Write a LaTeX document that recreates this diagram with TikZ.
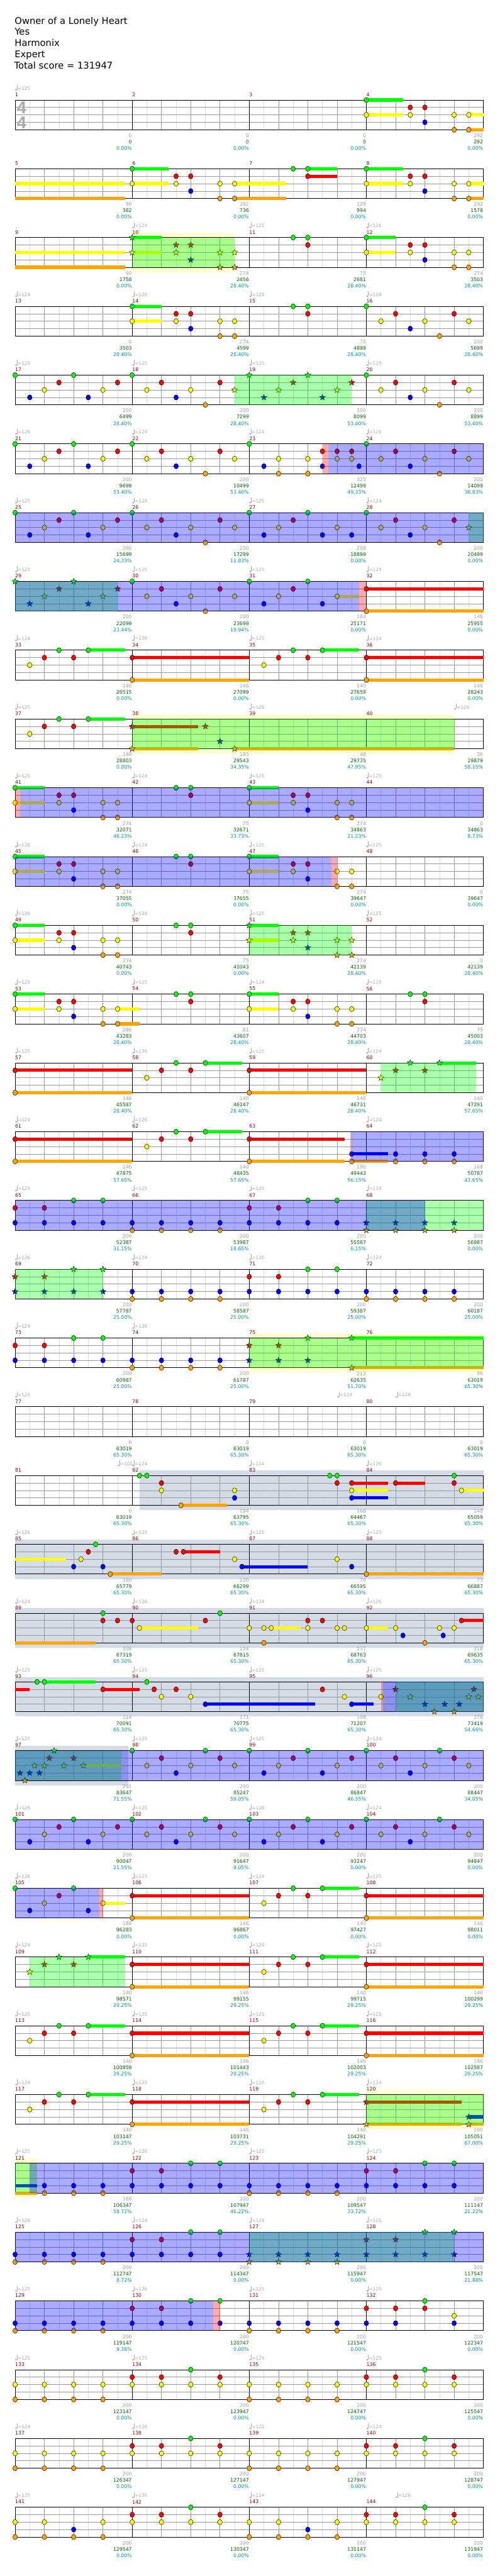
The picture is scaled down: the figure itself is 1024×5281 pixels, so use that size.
\documentclass[tikz,border=0pt]{standalone}
\usepackage{fontspec}
\setmainfont{DejaVu Sans}
\newfontfamily\lsans{Liberation Sans}
\usetikzlibrary{shapes.geometric}
\definecolor{lane0}{RGB}{0,255,0}
\definecolor{lane1}{RGB}{255,0,0}
\definecolor{lane2}{RGB}{255,255,0}
\definecolor{lane3}{RGB}{0,0,255}
\definecolor{lane4}{RGB}{255,165,0}
\definecolor{dred}{RGB}{139,0,0}
\definecolor{lgray}{RGB}{160,160,160}
\definecolor{dgreen}{RGB}{0,100,0}
\definecolor{tealc}{RGB}{0,150,150}
\definecolor{tgray}{RGB}{170,170,170}
\definecolor{glight}{RGB}{221,221,221}
\definecolor{gbeat}{RGB}{153,153,153}
\definecolor{soloy}{RGB}{255,255,208}
\definecolor{solob}{RGB}{212,220,232}
\tikzset{
 nh/.style={draw=black,line width=0.6pt},
 stn/.style={shape=star,star points=5,star point ratio=2.3,minimum size=13pt,inner sep=0pt,draw=black,line width=0.5pt},
 mnum/.style={anchor=west,inner sep=0pt,text=dred,font=\fontsize{10}{10}\selectfont},
 tnum/.style={anchor=west,inner sep=0pt,text=tgray,font=\fontsize{9.5}{10}\selectfont},
 lab/.style={anchor=east,inner sep=0pt,font=\fontsize{10}{10}\selectfont},
 hdr/.style={anchor=base west,inner sep=0pt,font=\fontsize{19}{23}\selectfont},
 tsig/.style={text=tgray,inner sep=0pt,font=\lsans\bfseries\fontsize{35}{35}\selectfont},
}
\newcommand\xNL[2]{\foreach \pp in {#2}{\draw[nh,fill=lane#1] ({15*\pp},{15.25*#1}) ellipse (4.7 and 5.3);}}
\newcommand\xSL[2]{\foreach \pp in {#2}{\node[stn,fill=lane#1] at ({15*\pp},{15.25*#1}) {};}}
\newcommand\xSB[3]{\fill[lane#1] ({15*#2},{15.25*#1-3.3}) rectangle ({15*#3},{15.25*#1+3.3});}
\newcommand\xRG[2]{\fill[lane0,fill opacity=0.333] ({15*#1},0) rectangle ({15*#2},61);}
\newcommand\xRB[2]{\fill[lane3,fill opacity=0.333] ({15*#1},0) rectangle ({15*#2},61);}
\newcommand\xRP[2]{\fill[lane1,fill opacity=0.333] ({15*#1},0) rectangle ({15*#2},61);}
\newcommand\xRY[2]{\fill[soloy] ({15*#1},-10) rectangle ({15*#2},71);}
\newcommand\xRS[2]{\fill[solob] ({15*#1},-10) rectangle ({15*#2},71);}
\newcommand\xGRID{%
 \foreach \ii in {0,...,15}{\draw[glight,line width=0.8pt] ({30+60*\ii},0) -- ({30+60*\ii},61);}
 \foreach \ii in {1,2,3,5,6,7,9,10,11,13,14,15}{\draw[gbeat,line width=0.8pt] ({60*\ii},0) -- ({60*\ii},61);}
 \foreach \ii in {1,2,3}{\draw[gbeat,line width=0.9pt] (0,{15.25*\ii}) -- (960,{15.25*\ii});}
 \foreach \ii in {0,...,4}{\draw[black,line width=0.8pt] ({240*\ii},0) -- ({240*\ii},61);}
 \draw[black,line width=1.2pt] (0,0) -- (960,0) (0,61) -- (960,61);}
\newcommand\xMN[1]{\foreach \ii in {0,...,3}{\pgfmathtruncatemacro\mm{#1+\ii}\node[mnum] at ({240*\ii},-11) {\mm};}}
\newcommand\xTP[2]{\fill[tgray] ({15*#1+2},-20.5) ellipse (2.2 and 1.6); \draw[tgray,line width=0.6pt] ({15*#1+4},-20.5) -- ({15*#1+4},-31); \node[tnum] at ({15*#1+5},-24) {=#2};}
\newcommand\xLAB[3]{%
 \foreach \vv [count=\ii] in {#1}{\node[lab,text=lgray] at ({240*\ii-0.5},73) {\vv};}
 \foreach \vv [count=\ii] in {#2}{\node[lab,text=dgreen] at ({240*\ii-0.5},86) {\vv};}
 \foreach \vv [count=\ii] in {#3}{\node[lab,text=tealc] at ({240*\ii-0.5},99) {\vv\%};}}
\begin{document}
\begin{tikzpicture}[x=1pt,y=-1pt]
\useasboundingbox (0,0) rectangle (1024,5281);
\fill[white] (0,0) rectangle (1024,5281);
\node[hdr] (h1) at (30,49) {Owner of a Lonely Heart};
\node[hdr] (h2) at (30,72) {Yes};
\node[hdr] (h3) at (30,95) {Harmonix};
\node[hdr] (h4) at (30,118.3) {Expert};
\node[hdr] (h5) at (29,141.7) {Total score = 131947};
% row 1
\begin{scope}[shift={(31,205)}]
\xGRID \xMN{1}
\node[tsig] (ts1) at (13.5,15.5) {4};
\node[tsig] (ts2) at (13.5,46.5) {4};
\xTP{0}{125}
\xSB{0}{48}{53}\xSB{2}{48}{53}\xSB{2}{62}{64}\xSB{4}{62}{64}
\xNL{0}{48}\xNL{1}{54,56}\xNL{2}{48,54,60,62}\xNL{3}{56}\xNL{4}{60,62}
\xLAB{0,0,0,292}{0,0,0,292}{0.00,0.00,0.00,0.00}
\end{scope}
% row 2
\begin{scope}[shift={(31,346)}]
\xGRID \xMN{5}
\xSB{2}{0}{15}\xSB{4}{0}{15}\xSB{0}{16}{21}\xSB{2}{16}{21}\xSB{2}{30}{37}\xSB{4}{30}{37}\xSB{0}{40}{44}\xSB{1}{40}{44}\xSB{0}{48}{53}\xSB{2}{48}{53}\xSB{2}{62}{64}\xSB{4}{62}{64}
\xNL{0}{16,38,40,48}\xNL{1}{22,24,40,54,56}\xNL{2}{16,22,28,30,48,54,60,62}\xNL{3}{24,56}\xNL{4}{28,30,60,62}
\xLAB{90,292,129,292}{382,736,994,1578}{0.00,0.00,0.00,0.00}
\end{scope}
% row 3
\begin{scope}[shift={(31,487)}]
\xRY{16}{30}
\xGRID \xMN{9}
\xTP{16}{124}\xTP{32}{125}\xTP{48}{126}
\xSB{2}{0}{15}\xSB{4}{0}{15}\xSB{0}{16}{20}\xSB{2}{16}{20}\xSB{0}{48}{52}\xSB{2}{48}{52}
\xNL{0}{38,40,48}\xNL{1}{40,54,56}\xNL{2}{48,54,60,62}\xNL{3}{56}\xNL{4}{60,62}
\xSL{0}{16}\xSL{1}{22,24}\xSL{2}{16,22,28,30}\xSL{3}{24}\xSL{4}{28,30}
\xRG{16}{30}
\xLAB{90,274,75,274}{1758,2456,2681,3503}{0.00,28.40,28.40,28.40}
\end{scope}
% row 4
\begin{scope}[shift={(31,628)}]
\xGRID \xMN{13}
\xTP{0}{124}\xTP{16}{126}\xTP{32}{124}\xTP{48}{126}
\xSB{0}{16}{20}\xSB{2}{16}{20}
\xNL{0}{16,38,40,48}\xNL{1}{22,24,40,52,60}\xNL{2}{16,22,28,30,50,56,62}\xNL{3}{24,54}\xNL{4}{28,30,58}
\xLAB{0,274,75,200}{3503,4599,4899,5699}{28.40,28.40,28.40,28.40}
\end{scope}
% row 5
\begin{scope}[shift={(31,769)}]
\xGRID \xMN{17}
\xTP{0}{125}\xTP{16}{125}\xTP{32}{125}\xTP{48}{125}
\xNL{0}{0,8,16,48}\xNL{1}{6,14,20,28,52,60}\xNL{2}{4,12,18,24,50,56,62}\xNL{3}{2,10,22,54}\xNL{4}{26,58}
\xSL{0}{32,40}\xSL{1}{38,46}\xSL{2}{30,36,44}\xSL{3}{34,42}
\xRG{30}{46}
\xLAB{200,200,200,200}{6499,7299,8099,8899}{28.40,28.40,53.40,53.40}
\end{scope}
% row 6
\begin{scope}[shift={(31,910)}]
\xGRID \xMN{21}
\xTP{0}{126}\xTP{16}{124}\xTP{32}{124}\xTP{48}{126}
\xNL{0}{0,8,16,32,48}\xNL{1}{6,14,20,28,42,44,46,52,60}\xNL{2}{4,12,18,24,30,36,40,44,46,50,56,62}\xNL{3}{2,10,22,34,42,47,54}\xNL{4}{26,36,40,58}
\xRP{42}{42.8}\xRB{42.8}{64}
\xLAB{200,200,325,200}{9699,10499,12499,14099}{53.40,53.40,49.33,36.83}
\end{scope}
% row 7
\begin{scope}[shift={(31,1051)}]
\xGRID \xMN{25}
\xTP{0}{125}\xTP{16}{125}\xTP{32}{125}\xTP{48}{124}
\xNL{0}{0,8,16,32,40,48}\xNL{1}{6,14,20,28,38,52,60}\xNL{2}{4,12,18,24,30,36,44,50,56}\xNL{3}{2,10,22,34,42,46,54}\xNL{4}{26,58}
\xSL{2}{62}
\xRG{62}{64}\xRB{0}{64}
\xLAB{200,200,200,200}{15699,17299,18899,20499}{24.33,11.83,0.00,0.00}
\end{scope}
% row 8
\begin{scope}[shift={(31,1192)}]
\xGRID \xMN{29}
\xTP{0}{125}\xTP{16}{125}\xTP{32}{125}\xTP{48}{125}
\xSB{2}{44}{47}\xSB{1}{48}{64}\xSB{4}{48}{64}
\xSL{0}{0,8}\xSL{1}{6,14}\xSL{2}{4,12}\xSL{3}{2,10}
\xNL{0}{16,32,40}\xNL{1}{20,28,38,48}\xNL{2}{18,24,30,36,44}\xNL{3}{22,34,42}\xNL{4}{26,48}
\xRG{0}{14}\xRB{0}{47}\xRP{47}{48}
\xLAB{200,200,184,146}{22099,23699,25171,25955}{23.44,10.94,0.00,0.00}
\end{scope}
% row 9
\begin{scope}[shift={(31,1333)}]
\xGRID \xMN{33}
\xTP{0}{124}\xTP{16}{126}\xTP{32}{125}\xTP{48}{124}
\xSB{0}{10}{15}\xSB{1}{16}{32}\xSB{4}{16}{32}\xSB{0}{42}{47}\xSB{1}{48}{64}\xSB{4}{48}{64}
\xNL{0}{6,10,38,42}\xNL{1}{4,8,16,36,40,48}\xNL{2}{2,34}\xNL{4}{16,48}
\xLAB{140,146,140,146}{26515,27099,27659,28243}{0.00,0.00,0.00,0.00}
\end{scope}
% row 10
\begin{scope}[shift={(31,1474)}]
\xRY{16}{60}
\xGRID \xMN{37}
\xTP{0}{125}\xTP{32}{126}\xTP{60}{120}
\xSB{0}{10}{15}\xSB{1}{16}{25}\xSB{4}{16}{25}\xSB{4}{30}{60}
\xNL{0}{6,10}\xNL{1}{4,8}\xNL{2}{2}
\xSL{1}{16,26}\xSL{3}{28}\xSL{4}{16,30}
\xRG{16}{60}
\xLAB{140,185,48,36}{28803,29543,29735,29879}{0.00,34.35,47.95,58.15}
\end{scope}
% row 11
\begin{scope}[shift={(31,1615)}]
\xGRID \xMN{41}
\xTP{0}{125}\xTP{16}{124}\xTP{32}{125}\xTP{48}{125}
\xSB{0}{0}{4}\xSB{2}{0}{4}\xSB{0}{32}{36}\xSB{2}{32}{36}
\xNL{0}{0,22,24,32}\xNL{1}{6,8,24,38,40}\xNL{2}{0,6,12,14,32,38,44,46}\xNL{3}{8,40}\xNL{4}{12,14,44,46}
\xRP{0}{0.7}\xRB{0.7}{64}
\xLAB{274,75,274,0}{32071,32671,34863,34863}{46.23,33.73,21.23,8.73}
\end{scope}
% row 12
\begin{scope}[shift={(31,1756)}]
\xGRID \xMN{45}
\xTP{0}{126}\xTP{16}{124}\xTP{32}{125}\xTP{48}{125}
\xSB{0}{0}{4}\xSB{2}{0}{4}\xSB{0}{32}{36}\xSB{2}{32}{36}
\xNL{0}{0,22,24,32}\xNL{1}{6,8,24,38,40}\xNL{2}{0,6,12,14,32,38,44,46}\xNL{3}{8,40}\xNL{4}{12,14,44,46}
\xRB{0}{43.2}\xRP{43.2}{44}
\xLAB{274,75,274,0}{37055,37655,39647,39647}{0.00,0.00,0.00,0.00}
\end{scope}
% row 13
\begin{scope}[shift={(31,1897)}]
\xGRID \xMN{49}
\xTP{0}{126}\xTP{16}{124}\xTP{32}{125}\xTP{48}{125}
\xSB{0}{0}{4}\xSB{2}{0}{4}\xSB{0}{32}{36}\xSB{2}{32}{36}
\xNL{0}{0,22,24}\xNL{1}{6,8,24}\xNL{2}{0,6,12,14}\xNL{3}{8}\xNL{4}{12,14}
\xSL{0}{32}\xSL{1}{38,40}\xSL{2}{32,38,44,46}\xSL{3}{40}\xSL{4}{44,46}
\xRG{32}{46}
\xLAB{274,75,274,0}{40743,41043,42139,42139}{0.00,0.00,28.40,28.40}
\end{scope}
% row 14
\begin{scope}[shift={(31,2038)}]
\xGRID \xMN{53}
\xTP{0}{125}\xTP{16}{125}\xTP{32}{124}\xTP{48}{125}
\xSB{0}{0}{4}\xSB{2}{0}{4}\xSB{2}{14}{17}\xSB{4}{14}{17}\xSB{0}{32}{36}\xSB{2}{32}{36}
\xNL{0}{0,22,24,32,54,56}\xNL{1}{6,8,24,38,40,56}\xNL{2}{0,6,12,14,32,38,44,46}\xNL{3}{8,40}\xNL{4}{12,14,44,46}
\xLAB{286,81,274,75}{43283,43607,44703,45003}{28.40,28.40,28.40,28.40}
\end{scope}
% row 15
\begin{scope}[shift={(31,2179)}]
\xGRID \xMN{57}
\xTP{0}{125}\xTP{16}{126}\xTP{32}{125}\xTP{48}{124}
\xSB{1}{0}{16}\xSB{4}{0}{16}\xSB{0}{26}{31}\xSB{1}{32}{48}\xSB{4}{32}{48}\xSB{0}{58}{63}
\xNL{0}{22,26}\xNL{1}{0,20,24,32}\xNL{2}{18}\xNL{4}{0,32}
\xSL{0}{54,58}\xSL{1}{52,56}\xSL{2}{50}
\xRG{50}{63}
\xLAB{146,140,146,140}{45587,46147,46731,47291}{28.40,28.40,28.40,57.65}
\end{scope}
% row 16
\begin{scope}[shift={(31,2320)}]
\xGRID \xMN{61}
\xTP{0}{124}\xTP{16}{126}\xTP{48}{124}
\xSB{1}{0}{16}\xSB{4}{0}{16}\xSB{0}{26}{31}\xSB{1}{32}{45}\xSB{4}{32}{45}\xSB{3}{46}{51}\xSB{4}{46}{51}
\xNL{0}{22,26}\xNL{1}{0,20,24,32}\xNL{2}{18}\xNL{3}{46,52,56,60}\xNL{4}{0,32,46,52,56,60}
\xRP{45.85}{46}\xRB{46}{64}
\xLAB{146,140,190,168}{47875,48435,49443,50787}{57.65,57.65,56.15,43.65}
\end{scope}
% row 17
\begin{scope}[shift={(31,2461)}]
\xGRID \xMN{65}
\xTP{0}{125}\xTP{16}{125}\xTP{32}{125}\xTP{48}{124}
\xNL{0}{8,12,40,44}\xNL{1}{0,4,32,36}\xNL{3}{0,4,...,44}\xNL{4}{16,20,24,28}
\xSL{3}{48,52,56,60}\xSL{4}{48,52,56,60}
\xRG{48}{64}\xRB{0}{56}
\xLAB{200,200,200,200}{52387,53987,55587,56987}{31.15,18.65,6.15,0.00}
\end{scope}
% row 18
\begin{scope}[shift={(31,2602)}]
\xGRID \xMN{69}
\xTP{0}{126}\xTP{16}{124}\xTP{32}{126}\xTP{48}{124}
\xSL{0}{8,12}\xSL{1}{0,4}\xSL{3}{0,4,8,12}
\xNL{0}{40,44}\xNL{1}{32,36}\xNL{3}{16,20,...,60}\xNL{4}{16,20,24,28,48,52,56,60}
\xRG{0}{12}
\xLAB{200,200,200,200}{57787,58587,59387,60187}{25.00,25.00,25.00,25.00}
\end{scope}
% row 19
\begin{scope}[shift={(31,2743)}]
\xRY{32}{64}
\xGRID \xMN{73}
\xTP{0}{124}\xTP{16}{126}
\xSB{0}{46}{64}\xSB{4}{46}{64}
\xNL{0}{8,12}\xNL{1}{0,4}\xNL{3}{0,4,...,28}\xNL{4}{16,20,24,28}
\xSL{0}{40,46}\xSL{1}{32,36}\xSL{3}{32,36,40}\xSL{4}{46}
\xRG{32}{64}
\xLAB{200,200,212,96}{60987,61787,62635,63019}{25.00,25.00,51.70,65.30}
\end{scope}
% row 20
\begin{scope}[shift={(31,2884)}]
\xGRID \xMN{77}
\xTP{0}{125}\xTP{44}{119}\xTP{52}{128}
\xLAB{0,0,0,0}{63019,63019,63019,63019}{65.30,65.30,65.30,65.30}
\end{scope}
% row 21
\begin{scope}[shift={(31,3025)}]
\xRS{17}{64}
\xGRID \xMN{81}
\xTP{14}{105}\xTP{16}{124}\xTP{32}{124}\xTP{48}{126}
\xSB{4}{22.67}{29}\xSB{1}{46}{51}\xSB{1}{52}{56}\xSB{2}{46}{51}\xSB{3}{46}{51}\xSB{2}{61}{64}
\xNL{0}{17,18,43,44,60}\xNL{1}{20,44,46,52,60}\xNL{2}{20,30,46,61}\xNL{3}{30,46}\xNL{4}{22.67}
\xLAB{0,194,168,148}{63019,63795,64467,65059}{65.30,65.30,65.30,65.30}
\end{scope}
% row 22
\begin{scope}[shift={(31,3166)}]
\xRS{0}{64}
\xGRID \xMN{85}
\xTP{0}{126}\xTP{16}{125}\xTP{32}{125}\xTP{48}{125}
\xSB{2}{0}{7}\xSB{4}{13}{20}\xSB{1}{23}{28}\xSB{3}{31}{40}\xSB{4}{48}{64}
\xNL{0}{11}\xNL{1}{10,22,23}\xNL{2}{9,30,44}\xNL{3}{8,12,31,46}\xNL{4}{13,48}
\xLAB{180,130,74,73}{65779,66299,66595,66887}{65.30,65.30,65.30,65.30}
\end{scope}
% row 23
\begin{scope}[shift={(31,3307)}]
\xRS{0}{64}
\xGRID \xMN{89}
\xTP{0}{124}\xTP{16}{126}\xTP{32}{124}\xTP{48}{126}
\xSB{4}{0}{11}\xSB{2}{17}{25}\xSB{2}{35}{39}\xSB{2}{48}{51}\xSB{1}{61}{64}
\xNL{0}{12,28}\xNL{1}{12,14,16,26,40,42,61}\xNL{2}{17,32,34,35,40,44,45,48,52,58,60}\xNL{3}{53,58.5}\xNL{4}{34,56}
\xLAB{108,124,237,218}{67319,67815,68763,69635}{65.30,65.30,65.30,65.30}
\end{scope}
% row 24
\begin{scope}[shift={(31,3448)}]
\xRS{0}{64}
\xGRID \xMN{93}
\xTP{0}{125}\xTP{16}{125}\xTP{32}{125}\xTP{48}{125}
\xSB{1}{0}{2}\xSB{0}{4}{11}\xSB{1}{12}{17}\xSB{3}{26}{41}\xSB{3}{46}{49}
\xNL{0}{3,4,18}\xNL{1}{12,19,22,42}\xNL{2}{20,24,45,50}\xNL{3}{26,46}
\xSL{1}{52,62.7}\xSL{2}{54,62,63.3}\xSL{3}{56,58.7,60.7}\xSL{4}{57.3,60}
\xRG{52}{64}\xRP{50}{50.3}\xRB{50.3}{64}
\xLAB{114,171,108,278}{70091,70775,71207,73419}{65.30,65.30,65.30,54.66}
\end{scope}
% row 25
\begin{scope}[shift={(31,3589)}]
\xRS{0}{15.5}
\xGRID \xMN{97}
\xTP{0}{125}\xTP{16}{125}\xTP{32}{125}\xTP{48}{124}
\xSB{2}{9.33}{14.5}
\xSL{0}{5.33}\xSL{1}{4.67,8}\xSL{2}{2.67,4,6.67,9.33}\xSL{3}{0.67,2,3.33}\xSL{4}{1.33}
\xNL{0}{16,26,32,40,48,58}\xNL{1}{20,28,38,46,52,60}\xNL{2}{18,24,30,36,44,50,56,62}\xNL{3}{22,34,42,54}
\xRG{0}{14.5}\xRB{0}{64}
\xLAB{291,200,200,200}{83647,85247,86847,88447}{71.55,59.05,46.55,34.05}
\end{scope}
% row 26
\begin{scope}[shift={(31,3730)}]
\xGRID \xMN{101}
\xTP{0}{126}\xTP{16}{125}\xTP{32}{126}\xTP{48}{124}
\xNL{0}{0,8,16,26,32,40,48,58}\xNL{1}{6,14,20,28,38,46,52,60}\xNL{2}{4,12,18,24,30,36,44,50,56,62}\xNL{3}{2,10,22,34,42,54}
\xRB{0}{64}
\xLAB{200,200,200,200}{90047,91647,93247,94847}{21.55,9.05,0.00,0.00}
\end{scope}
% row 27
\begin{scope}[shift={(31,3871)}]
\xGRID \xMN{105}
\xTP{0}{126}\xTP{16}{125}\xTP{32}{124}\xTP{48}{125}
\xSB{2}{12}{15}\xSB{1}{16}{32}\xSB{4}{16}{32}\xSB{0}{42}{47}\xSB{1}{48}{64}\xSB{4}{48}{64}
\xNL{0}{0,8,38,42}\xNL{1}{6,16,36,40,48}\xNL{2}{4,12,34}\xNL{3}{2,10}\xNL{4}{16,48}
\xRB{0}{11.5}\xRP{11.5}{12}
\xLAB{184,146,140,146}{96283,96867,97427,98011}{0.00,0.00,0.00,0.00}
\end{scope}
% row 28
\begin{scope}[shift={(31,4012)}]
\xGRID \xMN{109}
\xTP{0}{124}\xTP{16}{125}\xTP{32}{126}\xTP{48}{125}
\xSB{0}{10}{15}\xSB{1}{16}{32}\xSB{4}{16}{32}\xSB{0}{42}{47}\xSB{1}{48}{64}\xSB{4}{48}{64}
\xSL{0}{6,10}\xSL{1}{4,8}\xSL{2}{2}
\xNL{0}{38,42}\xNL{1}{16,36,40,48}\xNL{2}{34}\xNL{4}{16,48}
\xRG{2}{15}
\xLAB{140,146,140,146}{98571,99155,99715,100299}{29.25,29.25,29.25,29.25}
\end{scope}
% row 29
\begin{scope}[shift={(31,4153)}]
\xGRID \xMN{113}
\xTP{0}{125}\xTP{16}{125}\xTP{32}{125}\xTP{48}{125}
\xSB{0}{10}{15}\xSB{1}{16}{32}\xSB{4}{16}{32}\xSB{0}{42}{47}\xSB{1}{48}{64}\xSB{4}{48}{64}
\xNL{0}{6,10,38,42}\xNL{1}{4,8,16,36,40,48}\xNL{2}{2,34}\xNL{4}{16,48}
\xLAB{140,146,140,146}{100859,101443,102003,102587}{29.25,29.25,29.25,29.25}
\end{scope}
% row 30
\begin{scope}[shift={(31,4294)}]
\xRY{48}{64}
\xGRID \xMN{117}
\xTP{0}{124}\xTP{16}{125}\xTP{32}{126}\xTP{48}{124}
\xSB{0}{10}{15}\xSB{1}{16}{32}\xSB{4}{16}{32}\xSB{0}{42}{47}\xSB{1}{48}{61}\xSB{4}{48}{61}\xSB{3}{62}{64}\xSB{4}{62}{64}
\xNL{0}{6,10,38,42}\xNL{1}{4,8,16,36,40}\xNL{2}{2,34}\xNL{4}{16}
\xSL{1}{48}\xSL{3}{62}\xSL{4}{48,62}
\xRG{48}{64}
\xLAB{140,146,140,190}{103147,103731,104291,105051}{29.25,29.25,29.25,67.00}
\end{scope}
% row 31
\begin{scope}[shift={(31,4435)}]
\xRY{0}{3}
\xGRID \xMN{121}
\xTP{0}{125}\xTP{16}{126}\xTP{32}{125}\xTP{48}{125}
\xSB{3}{0}{3}\xSB{4}{0}{3}
\xNL{0}{24,28,56,60}\xNL{1}{16,20,48,52}\xNL{3}{4,8,...,60}\xNL{4}{4,8,12,32,36,40,44}
\xRG{0}{3}\xRB{2}{64}
\xLAB{168,200,200,200}{106347,107947,109547,111147}{58.72,46.22,33.72,21.22}
\end{scope}
% row 32
\begin{scope}[shift={(31,4576)}]
\xGRID \xMN{125}
\xTP{0}{126}\xTP{16}{124}\xTP{32}{124}\xTP{48}{125}
\xNL{0}{24,28}\xNL{1}{16,20}\xNL{3}{0,4,...,28}\xNL{4}{0,4,8,12}
\xSL{0}{56,60}\xSL{1}{48,52}\xSL{3}{32,36,...,60}\xSL{4}{32,36,40,44}
\xRG{32}{60}\xRB{0}{64}
\xLAB{200,200,200,200}{112747,114347,115947,117547}{8.72,0.00,0.00,21.88}
\end{scope}
% row 33
\begin{scope}[shift={(31,4717)}]
\xGRID \xMN{129}
\xTP{0}{125}\xTP{16}{126}\xTP{32}{125}\xTP{48}{125}
\xNL{0}{24,28,56}\xNL{1}{16,20,48,52,56}\xNL{2}{60}\xNL{3}{0,4,8,12,16,20,24,28,32,36,40,44,48,52,60}\xNL{4}{0,4,8,12,32,36,40,44}
\xRB{0}{27.1}\xRP{27.1}{28}
\xLAB{200,200,200,200}{119147,120747,121547,122347}{9.38,0.00,0.00,0.00}
\end{scope}
% row 34
\begin{scope}[shift={(31,4858)}]
\xGRID \xMN{133}
\xTP{0}{125}\xTP{16}{125}\xTP{32}{125}\xTP{48}{125}
\xNL{0}{24,56}\xNL{1}{16,20,28,48,52,60}\xNL{2}{0,4,...,60}\xNL{4}{0,4,8,12,32,36,40,44}
\xLAB{200,200,200,200}{123147,123947,124747,125547}{0.00,0.00,0.00,0.00}
\end{scope}
% row 35
\begin{scope}[shift={(31,4999)}]
\xGRID \xMN{137}
\xTP{0}{124}\xTP{16}{126}\xTP{32}{125}\xTP{48}{124}
\xNL{0}{24,56}\xNL{1}{16,20,28,48,52,60}\xNL{2}{0,4,...,60}\xNL{4}{0,4,8,12,32,36,40,44}
\xLAB{200,200,200,200}{126347,127147,127947,128747}{0.00,0.00,0.00,0.00}
\end{scope}
% row 36
\begin{scope}[shift={(31,5140)}]
\xGRID \xMN{141}
\xTP{0}{125}\xTP{16}{126}\xTP{32}{124}\xTP{52}{126}
\xNL{0}{24,56}\xNL{1}{16,20,28,48,52,60}\xNL{2}{0,4,12,16,20,24,28,32,36,44,48,52,56,60}\xNL{3}{8,40}\xNL{4}{0,4,8,12,32,36,40,44}
\xLAB{200,200,200,200}{129547,130347,131147,131947}{0.00,0.00,0.00,0.00}
\end{scope}
\end{tikzpicture}
\end{document}
